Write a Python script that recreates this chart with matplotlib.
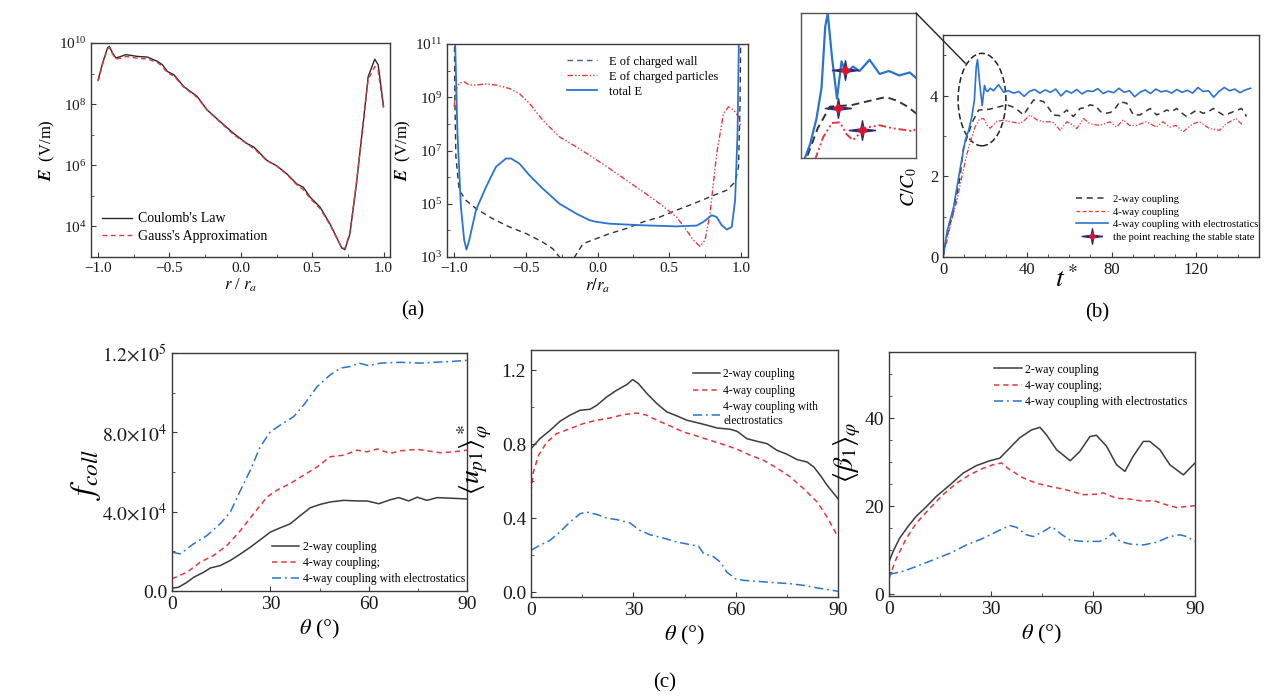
import numpy as np
import matplotlib
matplotlib.use('Agg')
import matplotlib.pyplot as plt
from matplotlib.patches import Ellipse, ConnectionPatch
from matplotlib.lines import Line2D
from matplotlib.ticker import FixedLocator, NullFormatter, MultipleLocator, FixedFormatter
from matplotlib.legend_handler import HandlerTuple

# ---------------- data ----------------
# (a) left: log10(E) vs r/ra
a1_r = [-1.0, -0.969, -0.934, -0.922, -0.899, -0.876, -0.841, -0.806, -0.724, -0.655,
        -0.585, -0.55, -0.515, -0.469, -0.399, -0.306, -0.236, -0.143, -0.05, 0.043,
        0.09, 0.183, 0.252, 0.322, 0.392, 0.438, 0.485, 0.555, 0.625, 0.671,
        0.706, 0.729, 0.764, 0.81, 0.857, 0.892, 0.938, 0.962, 1.0]
a1_coulomb = [8.79, 9.34, 9.84, 9.89, 9.67, 9.51, 9.56, 9.62, 9.56, 9.54,
              9.40, 9.29, 9.07, 8.96, 8.57, 8.25, 7.81, 7.42, 7.04, 6.71,
              6.60, 6.16, 5.98, 5.72, 5.39, 5.28, 4.96, 4.63, 4.08, 3.64,
              3.30, 3.24, 3.75, 5.39, 7.37, 8.9, 9.47, 9.29, 7.92]
a1_gauss = [8.75, 9.3, 9.8, 9.86, 9.64, 9.48, 9.5, 9.56, 9.5, 9.48,
            9.36, 9.24, 9.02, 8.92, 8.55, 8.22, 7.8, 7.40, 7.0, 6.7,
            6.55, 6.15, 5.97, 5.7, 5.36, 5.2, 4.92, 4.58, 4.05, 3.62,
            3.32, 3.28, 3.8, 5.45, 7.4, 8.8, 9.23, 9.1, 7.85]

# (a) right: log10(E) vs r/ra
a2_wall_r = [-0.999, -0.995, -0.988, -0.965, -0.918, -0.848, -0.732, -0.615, -0.498, -0.382,
             -0.312, -0.265, -0.21, -0.16, -0.101, -0.008, 0.085, 0.202, 0.319, 0.435,
             0.552, 0.669, 0.785, 0.902, 0.96, 0.984, 0.995, 1.0]
a2_wall = [12.0, 8.9, 6.76, 5.51, 5.13, 4.82, 4.44, 4.13, 3.88, 3.56,
           3.31, 3.0, 2.0, 3.0, 3.5, 3.69, 3.88, 4.07, 4.32, 4.5,
           4.76, 5.0, 5.26, 5.51, 5.82, 6.39, 8.9, 12.0]
a2_part_r = [-1.0, -0.988, -0.965, -0.93, -0.895, -0.848, -0.778, -0.708, -0.615, -0.545,
             -0.475, -0.382, -0.265, -0.148, -0.055, 0.085, 0.202, 0.319, 0.435, 0.552,
             0.622, 0.669, 0.715, 0.75, 0.785, 0.832, 0.879, 0.914, 0.949, 0.984, 1.0]
a2_part = [8.64, 9.27, 9.52, 9.58, 9.46, 9.46, 9.5, 9.46, 9.33, 9.14,
           8.77, 8.14, 7.51, 7.14, 6.82, 6.32, 5.88, 5.45, 5.0, 4.5,
           4.0, 3.63, 3.40, 3.63, 4.63, 6.89, 8.39, 8.64, 8.52, 8.27, 7.9]
a2_tot_r = [-0.997, -0.993, -0.977, -0.953, -0.93, -0.914, -0.895, -0.848, -0.778, -0.708,
            -0.638, -0.603, -0.545, -0.475, -0.382, -0.265, -0.148, -0.055, -0.008, 0.085,
            0.319, 0.552, 0.692, 0.739, 0.797, 0.832, 0.867, 0.902, 0.937, 0.96,
            0.977, 0.986, 0.99]
a2_tot = [12.0, 11.0, 7.64, 4.88, 3.63, 3.28, 3.63, 4.76, 5.63, 6.39,
          6.70, 6.70, 6.51, 6.07, 5.57, 5.0, 4.63, 4.38, 4.32, 4.25,
          4.19, 4.15, 4.18, 4.32, 4.57, 4.5, 4.19, 4.03, 4.13, 5.13,
          7.64, 11.0, 12.0]

# (b) C/C0 vs t*
b_t_2way = [0, 2, 5, 8, 9.8, 12, 14, 16, 16.9, 19, 22, 25, 28, 30.3, 33, 35.5, 38.2, 40.5, 43, 45.5,
            47.7, 50, 52.4, 55.5, 58.8, 61.9, 65.1, 67.5, 69.8, 72.5, 74.8, 76.9, 79.5, 82, 84, 87.2,
            90.4, 93.5, 96, 98.3, 101.4, 104, 106.2, 108.5, 110.9, 113, 115.6, 118, 120.4, 123.5,
            126, 128.3, 130.5, 133, 135.5, 137.8, 139.8, 141.7, 144.1]
b_c_2way = [0, 0.55, 1.15, 1.95, 2.73, 3.05, 3.35, 3.55, 3.64, 3.65, 3.66, 3.7, 3.74, 3.77, 3.72, 3.64,
            3.52, 3.7, 3.89, 3.88, 3.85, 3.7, 3.52, 3.5, 3.64, 3.48, 3.68, 3.7, 3.77, 3.74, 3.6, 3.56,
            3.58, 3.7, 3.85, 3.81, 3.52, 3.52, 3.6, 3.68, 3.52, 3.58, 3.64, 3.6, 3.68, 3.58, 3.48,
            3.56, 3.64, 3.56, 3.6, 3.68, 3.6, 3.52, 3.55, 3.6, 3.64, 3.68, 3.48]
b_t_4way = [0, 1.9, 4, 6.6, 9, 11.4, 13.5, 15.3, 17.4, 19.3, 20.9, 22.4, 25.5, 28.8, 31.9, 34.5, 36.7,
            39, 41.4, 44.5, 47.7, 50.5, 52.4, 55.6, 58.8, 61.9, 63.5, 66.7, 69.8, 74.5, 79.2, 82.4,
            85.5, 88.6, 91.8, 96.5, 101.3, 104.4, 107.6, 110.7, 113.9, 118.6, 121.8, 126.5, 131.3,
            134.4, 139.1, 142.3]
b_c_4way = [0, 0.4, 0.9, 1.4, 2.0, 2.56, 2.95, 3.23, 3.42, 3.43, 3.27, 3.19, 3.36, 3.39, 3.35, 3.33,
            3.31, 3.4, 3.52, 3.4, 3.35, 3.35, 3.33, 3.14, 3.35, 3.26, 3.18, 3.43, 3.3, 3.26, 3.35,
            3.22, 3.4, 3.26, 3.26, 3.35, 3.22, 3.35, 3.22, 3.26, 3.1, 3.3, 3.35, 3.18, 3.14, 3.3,
            3.43, 3.26]
b_t_elec = [0, 2, 5, 8, 10.6, 12.2, 13.7, 14.9, 15.8, 16.4, 17.4, 18.6, 19.7, 20.5, 21.2, 22.4, 24,
            26.4, 28.8, 31, 33.5, 36, 38.5, 41, 43.5, 46, 48.5, 51, 53.5, 56, 58.5, 61, 63.5, 66,
            68.5, 71, 73.5, 76, 78.5, 81, 83.5, 86, 88.5, 91, 93.5, 96, 98.5, 101, 103.5, 106,
            108.5, 111, 113.5, 116, 118.5, 121, 123.5, 126, 128.5, 131, 133.5, 136, 138.5, 141,
            143.5, 146]
b_c_elec = [0, 0.65, 1.23, 2.15, 2.9, 3.14, 3.48, 3.89, 4.72, 4.89, 4.31, 3.75, 4.25, 4.12, 4.1,
            4.18, 4.12, 4.27, 4.08, 4.12, 4.06, 4.10, 3.98, 4.10, 4.15, 4.06, 4.14, 4.08, 4.16,
            3.99, 4.12, 4.06, 4.15, 4.04, 4.12, 4.10, 4.17, 4.05, 4.11, 4.07, 4.18, 4.08, 4.12,
            3.97, 4.08, 4.14, 4.05, 4.16, 4.09, 4.12, 4.06, 4.15, 4.08, 4.13, 4.06, 4.20, 4.10,
            4.12, 3.96, 4.10, 4.20, 4.12, 4.16, 4.07, 4.14, 4.18]
b_star_t = [20.5, 18.9, 24.6]
b_star_c = [4.13, 3.62, 3.33]

# (c) left: f_coll vs theta
c1_th_2way = [0, 2, 4.6, 6.6, 9.7, 11.7, 14.7, 17.8, 20.9, 23.9, 26.9, 30, 33.1, 36.1, 39.2, 42.2,
              45.3, 48.3, 52.4, 56.5, 59.5, 63.1, 66.6, 69.2, 72.2, 74.8, 77.8, 80.9, 84.9, 90]
c1_f_2way = [0.14e4, 0.19e4, 0.44e4, 0.69e4, 0.95e4, 1.16e4, 1.28e4, 1.54e4, 1.87e4, 2.21e4,
             2.58e4, 2.97e4, 3.19e4, 3.39e4, 3.81e4, 4.2e4, 4.37e4, 4.49e4, 4.57e4, 4.54e4,
             4.54e4, 4.4e4, 4.6e4, 4.71e4, 4.54e4, 4.73e4, 4.57e4, 4.71e4, 4.68e4, 4.64e4]
c1_th_4way = [0, 4.6, 8.6, 12.7, 16.8, 20.9, 24.9, 29, 32, 36.1, 40.2, 44.3, 48.3, 52.4, 56.5,
              59.5, 62.6, 66.6, 69.7, 74.8, 77.8, 81.9, 86, 90]
c1_f_4way = [0.61e4, 0.95e4, 1.45e4, 1.79e4, 2.3e4, 3.05e4, 3.9e4, 4.74e4, 5.08e4, 5.42e4,
             5.84e4, 6.26e4, 6.77e4, 6.85e4, 7.1e4, 7.02e4, 7.16e4, 6.94e4, 7.07e4, 7.14e4,
             7.07e4, 6.97e4, 7.02e4, 7.1e4]
c1_th_elec = [0, 2.5, 6.6, 10.7, 14.7, 17.8, 20.9, 23.9, 26.9, 30, 33.1, 37.1, 40.2, 44.3, 48.3,
              51.4, 54.4, 57, 60, 63.6, 69.7, 75.8, 80.9, 86, 90]
c1_f_elec = [1.96e4, 1.87e4, 2.38e4, 2.8e4, 3.39e4, 3.98e4, 5.08e4, 6.09e4, 7.27e4, 8.03e4,
             8.37e4, 8.79e4, 9.38e4, 10.31e4, 10.9e4, 11.24e4, 11.32e4, 11.49e4, 11.36e4,
             11.49e4, 11.53e4, 11.49e4, 11.54e4, 11.58e4, 11.63e4]

# (c) middle: <u_p1>* vs theta
c2_th_2way = [0, 2.6, 5.6, 8.5, 11.4, 14.4, 17.3, 19.3, 22.2, 25.1, 28.1, 29.8, 31.5, 34, 36.9,
              39.8, 42.8, 45.7, 48.6, 51.6, 54.5, 58.4, 60.4, 63.3, 66.2, 69.2, 72.1, 75, 78,
              80.9, 82.9, 84.8, 86.8, 90]
c2_u_2way = [0.776, 0.83, 0.875, 0.924, 0.957, 0.984, 0.989, 1.011, 1.056, 1.092, 1.123, 1.15,
             1.128, 1.074, 1.02, 0.975, 0.953, 0.93, 0.917, 0.903, 0.888, 0.881, 0.87, 0.83,
             0.816, 0.803, 0.767, 0.746, 0.717, 0.704, 0.677, 0.632, 0.578, 0.505]
c2_th_4way = [0, 0.7, 2.2, 4.6, 7.5, 11.4, 15.4, 19.3, 23.2, 27.1, 31, 34, 36.9, 40.8, 44.7, 48.6,
              52.5, 56.5, 60.4, 64.3, 68.2, 72.1, 76, 79.9, 83.9, 86.8, 90]
c2_u_4way = [0.54, 0.65, 0.74, 0.81, 0.857, 0.884, 0.912, 0.93, 0.942, 0.96, 0.969, 0.957, 0.93,
             0.899, 0.866, 0.845, 0.821, 0.798, 0.773, 0.74, 0.713, 0.671, 0.623, 0.56, 0.487,
             0.406, 0.298]
c2_th_elec = [0, 2.6, 5.6, 8.5, 11.4, 14.4, 16.3, 19.3, 22.2, 25.1, 29, 31.9, 34.9, 38.8, 42.8,
              46.7, 49.1, 50.6, 53.6, 55.5, 57.4, 59.9, 62.3, 66.2, 71.1, 76, 79.9, 83.9, 90]
c2_u_elec = [0.226, 0.253, 0.28, 0.325, 0.379, 0.424, 0.433, 0.42, 0.4, 0.392, 0.374, 0.334,
             0.31, 0.292, 0.271, 0.256, 0.249, 0.208, 0.19, 0.162, 0.108, 0.072, 0.063, 0.058,
             0.051, 0.045, 0.036, 0.022, 0.004]

# (c) right: <beta_1> vs theta
c3_th_2way = [0, 1.2, 3.1, 5.6, 8, 10.5, 13.9, 17.9, 21.8, 25.7, 29.6, 32.6, 35.5, 38.4, 41.9,
              44.4, 46.3, 49.3, 53.3, 56.1, 59.1, 61, 64, 66.9, 69.4, 71.8, 74.8, 76.7, 79.7,
              82.6, 86.6, 90]
c3_b_2way = [7.4, 9.7, 12.7, 15.4, 17.7, 19.5, 22.2, 24.8, 27.5, 29.2, 30.3, 30.9, 33.2, 35.5,
             37.3, 37.9, 36.2, 32.8, 30.3, 32.4, 35.8, 36.1, 33.6, 29.4, 27.9, 31.3, 34.7, 34.7,
             32.8, 29.4, 27.1, 29.8]
c3_th_4way = [0, 2.2, 5.1, 8, 12, 15.9, 19.8, 23.7, 27.7, 30.6, 33.1, 35.5, 39.5, 43.4, 47.3,
              52.2, 57.1, 61, 63, 66.9, 70.9, 74.8, 77.7, 81.6, 84.6, 90]
c3_b_4way = [3.6, 8.2, 12.7, 16.1, 19.5, 22.6, 25.2, 27.1, 28.6, 29.4, 29.8, 28.3, 26.4, 25.2,
             24.5, 23.7, 22.6, 22.7, 23.0, 21.8, 21.6, 21.1, 21.3, 20.3, 19.7, 20.1]
c3_th_elec = [0, 4.1, 8, 13, 17.9, 22.8, 27.7, 31.6, 35.5, 37.5, 40.4, 42.4, 45.3, 47.8, 50.2,
              53.2, 57.1, 62, 64, 65.9, 67.9, 70.9, 74.8, 78.7, 82.6, 85.6, 87.5, 90]
c3_b_elec = [4.5, 5.2, 6.3, 7.8, 9.3, 11.2, 12.7, 14.2, 15.6, 15.2, 13.5, 13.1, 14.2, 15.4, 13.9,
             12.3, 12.0, 12.0, 12.7, 13.9, 12.0, 11.4, 11.2, 11.8, 13.1, 13.5, 13.1, 12.0]

theta_ticks = [0, 30, 60, 90]
c1_ytick_vals = [0, 4e4, 8e4, 1.2e5]
c1_ytick_labels = ['0.0', r'$4.0{\times}10^{4}$', r'$8.0{\times}10^{4}$', r'$1.2{\times}10^{5}$']

labels_c = ['2-way coupling', '4-way coupling;', '4-way coupling with electrostatics']
labels_c2 = ['2-way coupling', '4-way coupling', '4-way coupling with\nelectrostatics']
labels_b = ['2-way coupling', '4-way coupling', '4-way coupling with electrostatics',
            'the point reaching the stable state']

# ---------------- style ----------------
plt.rcParams.update({
    'font.family': ['Liberation Serif', 'DejaVu Serif'],
    'mathtext.fontset': 'stix',
    'axes.linewidth': 1.0,
    'axes.edgecolor': '#3a3a3a',
    'xtick.direction': 'in',
    'ytick.direction': 'in',
    'xtick.color': '#3a3a3a',
    'ytick.color': '#3a3a3a',
    'xtick.labelcolor': '#1a1a1a',
    'ytick.labelcolor': '#1a1a1a',
    'xtick.major.size': 3.5,
    'ytick.major.size': 3.5,
    'xtick.minor.size': 2,
    'ytick.minor.size': 2,
})

BLACK = '#3c3c3c'
RED = '#e0393b'
BLUE = '#2a74d0'
NAVY = '#2b2f6e'
DASHDOT = (0, (6, 2.5, 1.2, 2.5))
RDOT = (0, (4, 1.5, 1, 1.5, 1, 1.5))
STAR = [(1.35, 0), (0.16, 0.16), (0, 1), (-0.16, 0.16), (-1.35, 0),
        (-0.16, -0.16), (0, -1), (0.16, -0.16), (1.35, 0)]

W, H = 1268, 698
fig = plt.figure(figsize=(W / 100, H / 100), dpi=100)


def px_axes(l, t, r, b):
    return fig.add_axes([l / W, 1 - b / H, (r - l) / W, (b - t) / H])


# ---- (a) left ----
ax = px_axes(91, 43, 390, 257)
ax.plot(a1_r, 10 ** np.array(a1_coulomb), color='#2a2a2a', lw=1.0, label="Coulomb's Law")
ax.plot(a1_r, 10 ** np.array(a1_gauss), color=RED, lw=1.0, ls=(0, (3.5, 2.5)), label="Gauss's Approximation")
ax.set_yscale('log')
ax.set_xlim(-1.05, 1.045)
ax.set_ylim(1e3, 1e10)
ax.yaxis.set_major_locator(FixedLocator([1e4, 1e6, 1e8, 1e10]))
ax.yaxis.set_minor_locator(FixedLocator([1e3, 1e5, 1e7, 1e9]))
ax.yaxis.set_minor_formatter(NullFormatter())
ax.xaxis.set_major_locator(FixedLocator([-1.0, -0.5, 0.0, 0.5, 1.0]))
ax.xaxis.set_minor_locator(MultipleLocator(0.25))
ax.tick_params(labelsize=11)
ax.set_xlabel(r'$r$ / $r_a$', fontsize=12, labelpad=1)
ax.set_ylabel(r'$\mathbfit{E}$  (V/m)', fontsize=12, labelpad=1)
ax.legend(loc='lower left', bbox_to_anchor=(0.012, 0.035), frameon=False, fontsize=10,
          handlelength=2.2, labelspacing=0.3, borderpad=0, handletextpad=0.4)

# ---- (a) right ----
ax = px_axes(447, 44, 748, 257)
ax.plot(a2_wall_r, 10 ** np.array(a2_wall), color='#333333', lw=1.0, ls=(0, (4, 3)))
ax.plot(a2_part_r, 10 ** np.array(a2_part), color=RED, lw=1.0, ls=RDOT)
ax.plot(a2_tot_r, 10 ** np.array(a2_tot), color=BLUE, lw=1.3)
ax.set_yscale('log')
ax.set_xlim(-1.05, 1.05)
ax.set_ylim(1e3, 1e11)
ax.yaxis.set_major_locator(FixedLocator([1e3, 1e5, 1e7, 1e9, 1e11]))
ax.yaxis.set_minor_locator(FixedLocator([1e4, 1e6, 1e8, 1e10]))
ax.yaxis.set_minor_formatter(NullFormatter())
ax.xaxis.set_major_locator(FixedLocator([-1.0, -0.5, 0.0, 0.5, 1.0]))
ax.xaxis.set_minor_locator(MultipleLocator(0.25))
ax.tick_params(labelsize=11)
ax.set_xlabel(r'$r/r_a$', fontsize=12, labelpad=1)
ax.set_ylabel(r'$\mathbfit{E}$  (V/m)', fontsize=12, labelpad=1)
hs = [Line2D([], [], color='#3a5fa8', lw=1.0, ls=(0, (4, 3))),
      Line2D([], [], color=RED, lw=1.0, ls=RDOT),
      Line2D([], [], color=BLUE, lw=1.3)]
ax.legend(hs, ['E of charged wall', 'E of charged particles', 'total E'],
          loc='upper left', bbox_to_anchor=(0.379, 0.975), frameon=False, fontsize=9,
          handlelength=2.4, labelspacing=0.25, borderpad=0, handletextpad=0.95)

fig.text(413 / W, 1 - 311 / H, '(a)', fontsize=15, ha='center', va='center')

# ---- (b) ----
axb = px_axes(943, 35, 1259, 257)
axb.plot(b_t_2way, b_c_2way, color='#333333', lw=1.1, ls=(0, (4, 3)))
axb.plot(b_t_4way, b_c_4way, color=RED, lw=0.9, ls=RDOT)
axb.plot(b_t_elec, b_c_elec, color=BLUE, lw=1.2)
axb.set_xlim(0, 150)
axb.set_ylim(0, 5.5)
axb.xaxis.set_major_locator(FixedLocator([0, 40, 80, 120]))
axb.xaxis.set_minor_locator(MultipleLocator(10))
axb.yaxis.set_major_locator(FixedLocator([0, 2, 4]))
axb.yaxis.set_minor_locator(MultipleLocator(1))
axb.tick_params(labelsize=12)
axb.set_xlabel(r'$t^*$', fontsize=20)
axb.xaxis.set_label_coords(0.392, -0.04)
axb.set_ylabel(r'$C/C_0$', fontsize=14)
axb.yaxis.set_label_coords(-0.075, 0.315)
axb.add_patch(Ellipse((18.5, 3.9), 22.7, 2.29, fill=False, ls=(0, (4, 2)), lw=1.1, color='#222222'))
star_h = (Line2D([], [], ls='none', marker=STAR, ms=15, color=NAVY),
          Line2D([], [], ls='none', marker=(4, 1, 0), ms=5, color='#e01030'))
hs = [Line2D([], [], color='#333333', lw=1.1, ls=(0, (4, 3))),
      Line2D([], [], color=RED, lw=0.9, ls=(0, (3, 2))),
      Line2D([], [], color=BLUE, lw=1.2), star_h]
axb.legend(hs, labels_b, loc='upper left', bbox_to_anchor=(0.405, 0.305), frameon=False,
           fontsize=7.6, handlelength=3.0, labelspacing=0.3, borderpad=0, handletextpad=0.45,
           handler_map={tuple: HandlerTuple(ndivide=1, pad=0)})

# inset
axi = px_axes(801, 13, 916, 158)
axi.plot(b_t_2way, b_c_2way, color='#333333', lw=1.4, ls=(0, (4, 2.5)))
axi.plot(b_t_4way, b_c_4way, color=RED, lw=1.4, ls=RDOT)
axi.plot(b_t_elec, b_c_elec, color=BLUE, lw=1.6)
axi.plot(b_star_t, b_star_c, ls='none', marker=STAR, ms=19, color=NAVY, zorder=5)
axi.plot(b_star_t, b_star_c, ls='none', marker=(4, 1, 0), ms=7, color='#e01030', zorder=6)
axi.set_xlim(10, 37.5)
axi.set_ylim(2.95, 4.9)
axi.set_xticks([])
axi.set_yticks([])
for s in axi.spines.values():
    s.set_color('#555555')
con = ConnectionPatch(xyA=(1, 1), coordsA=axi.transAxes, xyB=(10.6, 4.8), coordsB=axb.transData,
                      color='#222222', lw=1.0)
fig.add_artist(con)

fig.text(1097 / W, 1 - 313 / H, '(b)', fontsize=15, ha='center', va='center')

# ---- (c) ----
def theta_axis(ax):
    ax.set_xlim(0, 90)
    ax.xaxis.set_major_locator(FixedLocator(theta_ticks))
    ax.xaxis.set_minor_locator(MultipleLocator(15))
    ax.tick_params(labelsize=14)
    ax.set_xlabel(r'$\theta$ (°)', fontsize=16, labelpad=4)


def c_handles():
    return [Line2D([], [], color=BLACK, lw=1.1),
            Line2D([], [], color=RED, lw=1.1, ls=(0, (3.5, 2.5))),
            Line2D([], [], color=BLUE, lw=1.1, ls=DASHDOT)]


ax = px_axes(172, 353, 467, 591)
ax.plot(c1_th_2way, c1_f_2way, color=BLACK, lw=1.1)
ax.plot(c1_th_4way, c1_f_4way, color=RED, lw=1.1, ls=(0, (3.5, 2.5)))
ax.plot(c1_th_elec, c1_f_elec, color=BLUE, lw=1.1, ls=DASHDOT)
theta_axis(ax)
ax.set_ylim(0, 1.2e5)
ax.yaxis.set_major_locator(FixedLocator(c1_ytick_vals))
ax.yaxis.set_major_formatter(FixedFormatter(c1_ytick_labels))
ax.yaxis.set_minor_locator(MultipleLocator(2e4))
ax.set_ylabel(r'$f_{coll}$', fontsize=24)
ax.yaxis.set_label_coords(-0.235, 0.49)
ax.legend(c_handles(), labels_c, loc='upper left', bbox_to_anchor=(0.32, 0.235), frameon=False,
          fontsize=8.5, handlelength=2.3, labelspacing=0.35, borderpad=0, handletextpad=0.3)

ax = px_axes(531, 350, 838, 597)
ax.plot(c2_th_2way, c2_u_2way, color=BLACK, lw=1.1)
ax.plot(c2_th_4way, c2_u_4way, color=RED, lw=1.1, ls=(0, (3.5, 2.5)))
ax.plot(c2_th_elec, c2_u_elec, color=BLUE, lw=1.1, ls=DASHDOT)
theta_axis(ax)
ax.set_ylim(-0.027, 1.31)
ax.yaxis.set_major_locator(FixedLocator([0.0, 0.4, 0.8, 1.2]))
ax.yaxis.set_minor_locator(MultipleLocator(0.2))
ax.yaxis.set_major_formatter(FixedFormatter(['0.0', '0.4', '0.8', '1.2']))
ax.set_ylabel(r'$\langle u_{p1}\rangle^*_{\varphi}$', fontsize=20)
ax.yaxis.set_label_coords(-0.125, 0.555)
ax.legend(c_handles(), labels_c2, loc='upper left', bbox_to_anchor=(0.51, 0.95), frameon=False,
          fontsize=8.3, handlelength=2.3, labelspacing=0.4, borderpad=0, handletextpad=0.3)

ax = px_axes(889, 352, 1195, 596)
ax.plot(c3_th_2way, c3_b_2way, color=BLACK, lw=1.1)
ax.plot(c3_th_4way, c3_b_4way, color=RED, lw=1.1, ls=(0, (3.5, 2.5)))
ax.plot(c3_th_elec, c3_b_elec, color=BLUE, lw=1.1, ls=DASHDOT)
theta_axis(ax)
ax.set_ylim(-0.4, 55)
ax.yaxis.set_major_locator(FixedLocator([0, 20, 40]))
ax.yaxis.set_minor_locator(MultipleLocator(5))
ax.set_ylabel(r'$\langle \beta_1\rangle_{\varphi}$', fontsize=20)
ax.yaxis.set_label_coords(-0.085, 0.59)
ax.legend(c_handles(), labels_c, loc='upper left', bbox_to_anchor=(0.325, 0.977), frameon=False,
          fontsize=8.5, handlelength=2.3, labelspacing=0.35, borderpad=0, handletextpad=0.3)

fig.text(665 / W, 1 - 683 / H, '(c)', fontsize=15, ha='center', va='center')

fig.savefig('out.png', dpi=100)
